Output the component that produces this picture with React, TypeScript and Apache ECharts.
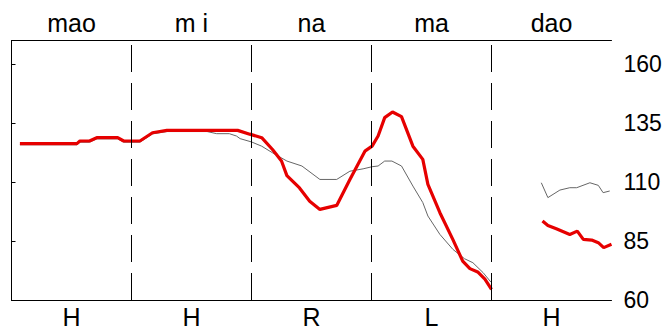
import React, { useEffect, useRef } from "react";
import * as echarts from "echarts";

const topLabels = ["mao", "m i", "na", "ma", "dao"];
const bottomLabels = ["H", "H", "R", "L", "H"];
const yTicks = [60, 85, 110, 135, 160];
const sectionBounds = [20, 40, 60, 80];

// red series, first segment
const redX1 = [1.4, 10.9, 11.4, 13.0, 14.2, 17.7, 18.7, 21.4, 23.5, 25.9, 37.7, 39.7, 41.7, 43.5, 45.0, 45.9, 48.0, 49.7, 51.4, 54.2, 56.4, 58.9, 60.1, 61.1, 62.2, 63.5, 65.0, 66.9, 68.55, 69.4, 71.4, 73.55, 75.2, 76.4, 77.7, 78.9, 80.0];
const redY1 = [126.3, 126.3, 127.4, 127.4, 128.8, 128.8, 127.4, 127.4, 130.9, 131.9, 131.9, 130.3, 128.8, 123.8, 118.9, 112.7, 107.5, 101.9, 98.4, 100.1, 111.1, 123.1, 125.2, 129.5, 137.3, 139.7, 137.7, 125.2, 119.6, 109.0, 97.0, 85.7, 76.5, 73.3, 71.9, 68.8, 64.5];
// red series, second segment
const redX2 = [88.5, 89.4, 90.8, 93.05, 94.3, 95.3, 96.7, 97.8, 98.7, 100];
const redY2 = [93.5, 91.6, 90.2, 87.8, 89.2, 85.7, 85.4, 84.3, 82.2, 83.6];
// grey series, first segment
const greyX1 = [1.4, 10.9, 11.4, 13.0, 14.2, 17.7, 18.7, 21.4, 23.5, 25.9, 32.6, 34.2, 36.3, 37.5, 38.1, 40.0, 41.7, 43.5, 45.9, 48.4, 51.4, 54.2, 56.4, 58.6, 60.1, 61.1, 62.2, 63.4, 65.0, 66.9, 68.55, 69.4, 71.4, 73.55, 75.5, 76.9, 78.6, 79.9];
const greyY1 = [125.8, 125.8, 126.9, 126.9, 128.3, 128.3, 126.9, 126.9, 130.4, 131.4, 131.4, 130.5, 130.5, 129.5, 128.4, 127.0, 125.2, 122.4, 118.9, 116.8, 111.1, 111.1, 114.6, 115.6, 116.5, 116.8, 118.9, 118.9, 116.8, 108.3, 101.3, 95.6, 87.8, 81.5, 77.5, 75.8, 71.6, 67.6];
// grey series, second segment
const greyX2 = [88.3, 89.4, 91.4, 93.05, 94.2, 96.4, 97.8, 98.6, 99.7];
const greyY2 = [109.7, 103.4, 106.6, 107.6, 107.6, 109.7, 108.6, 105.5, 106.2];

const zip = (xs: number[], ys: number[]) => xs.map((x, i) => [x, ys[i]]);

const FONT = "'Liberation Sans', Arial, sans-serif";

export default function App() {
  const ref = useRef<HTMLDivElement>(null);
  useEffect(() => {
    if (!ref.current) return;
    const chart = echarts.init(ref.current, null, { renderer: "svg" });
    const red = { type: "line", xAxisIndex: 0, showSymbol: false, lineStyle: { color: "#e60000", width: 3.2 }, z: 3 };
    const grey = { type: "line", xAxisIndex: 0, showSymbol: false, lineStyle: { color: "#666666", width: 1 }, z: 2 };
    chart.setOption({
      animation: false,
      backgroundColor: "#ffffff",
      grid: { left: 11.5, right: 56.5, top: 40.5, bottom: 28.5, show: false },
      xAxis: [
        { type: "value", min: 0, max: 100, show: false },
        {
          type: "category",
          position: "bottom",
          data: bottomLabels,
          boundaryGap: true,
          axisLine: { show: true, lineStyle: { color: "#000", width: 1 } },
          axisTick: { show: false },
          axisLabel: { color: "#000", fontSize: 25, fontFamily: FONT, margin: 4 },
          splitLine: { show: false },
        },
        {
          type: "category",
          position: "top",
          data: topLabels,
          boundaryGap: true,
          axisLine: { show: true, lineStyle: { color: "#000", width: 1 } },
          axisTick: { show: false },
          axisLabel: { color: "#000", fontSize: 25, fontFamily: FONT, margin: 5 },
          splitLine: { show: false },
        },
      ],
      yAxis: [
        {
          type: "value",
          position: "right",
          min: 60,
          max: 170,
          axisLine: { show: true, lineStyle: { color: "#000", width: 1 } },
          axisTick: { show: true, length: 4, lineStyle: { color: "#000" }, customValues: yTicks },
          axisLabel: { color: "#000", fontSize: 23, fontFamily: FONT, margin: 12, customValues: yTicks },
          splitLine: { show: false },
        },
        {
          type: "value",
          position: "left",
          min: 60,
          max: 170,
          axisLine: { show: true, lineStyle: { color: "#000", width: 1 } },
          axisTick: { show: false },
          axisLabel: { show: false },
          splitLine: { show: false },
        },
      ],
      series: [
        {
          ...grey,
          z: 1,
          data: zip(greyX1, greyY1),
          markLine: {
            silent: true,
            symbol: "none",
            label: { show: false },
            lineStyle: { color: "#000", width: 1, type: [27, 11] },
            data: sectionBounds.map((x) => ({ xAxis: x })),
          },
        },
        { ...grey, data: zip(greyX2, greyY2) },
        { ...red, data: zip(redX1, redY1) },
        { ...red, data: zip(redX2, redY2) },
      ],
    });
    return () => chart.dispose();
  }, []);
  return <div ref={ref} style={{ position: "fixed", left: 0, top: 0, width: 668, height: 329 }} />;
}
